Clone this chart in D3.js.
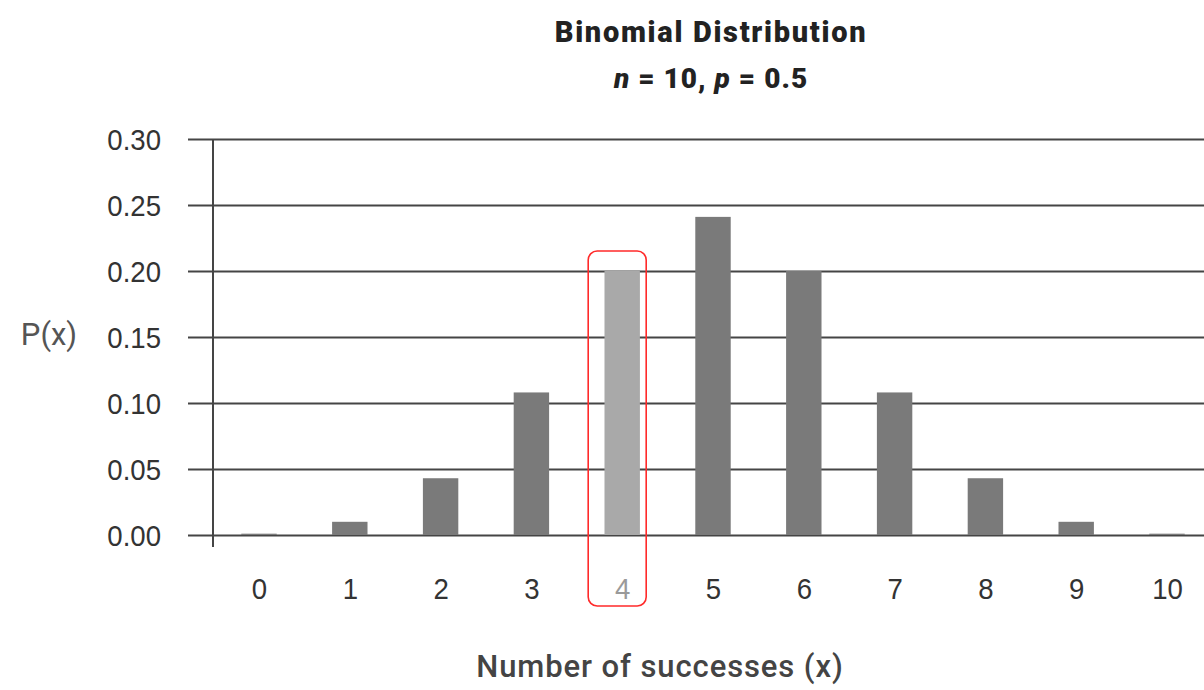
<!DOCTYPE html>
<html>
<head>
<meta charset="utf-8">
<script src="https://cdn.jsdelivr.net/npm/d3@7"></script>
<style>
  html, body { margin: 0; padding: 0; background: #fff; }
  svg { display: block; font-family: Roboto, "Liberation Sans", sans-serif; }
</style>
</head>
<body>
<svg id="chart" width="1204" height="690"></svg>
<script>
// Binomial distribution, n = 10, p = 0.5
const successes = [0, 1, 2, 3, 4, 5, 6, 7, 8, 9, 10];
const probabilities = [0.001, 0.010, 0.043, 0.108, 0.200, 0.241, 0.200, 0.108, 0.043, 0.010, 0.001];
const yTicks = [0, 0.05, 0.10, 0.15, 0.20, 0.25, 0.30];
const highlighted = 4;

const svg = d3.select("#chart");

const x = d3.scalePoint()
  .domain(successes)
  .range([259, 1167]);

const y = d3.scaleLinear()
  .domain([0, 0.30])
  .range([535, 139]);

const axisX = 213;
const barWidth = x.step() * 0.39;
const narrow = 0.92; // horizontal squeeze for the condensed tick labels

// horizontal gridlines with short tick stubs to the left of the axis
const yAxis = d3.axisLeft(y)
  .tickValues(yTicks)
  .tickFormat(d3.format(".2f"))
  .tickSize(-(1204 - axisX))
  .tickPadding(52);

const gy = svg.append("g")
  .attr("transform", `translate(${axisX},0)`)
  .call(yAxis);
gy.select(".domain").remove();
gy.selectAll(".tick line")
  .attr("x1", -25)
  .attr("stroke", "#454545")
  .attr("stroke-width", 2);
gy.selectAll(".tick text")
  .attr("x", 0)
  .attr("transform", `translate(-52,0) scale(${narrow},1)`)
  .attr("fill", "#333")
  .attr("font-size", 30)
  .attr("dy", "0.36em");

// vertical axis line
svg.append("line")
  .attr("x1", axisX).attr("x2", axisX)
  .attr("y1", y(0.30)).attr("y2", 547)
  .attr("stroke", "#454545")
  .attr("stroke-width", 2);

// bars
svg.append("g")
  .selectAll("rect")
  .data(successes)
  .join("rect")
  .attr("x", d => x(d) - barWidth / 2)
  .attr("width", barWidth)
  .attr("y", (d, i) => y(probabilities[i]))
  .attr("height", (d, i) => y(0) - y(probabilities[i]))
  .attr("fill", d => d === highlighted ? "#a9a9a9" : "#7a7a7a");

// x tick labels
const xAxis = d3.axisBottom(x).tickSize(0).tickPadding(0);
const gx = svg.append("g")
  .attr("transform", "translate(0,599)")
  .call(xAxis);
gx.select(".domain").remove();
gx.selectAll(".tick text")
  .attr("y", 0)
  .attr("dy", 0)
  .attr("transform", `scale(${narrow},1)`)
  .attr("font-size", 30)
  .attr("fill", d => d === highlighted ? "#9a9a9a" : "#333");

// red rounded outline around the highlighted outcome
svg.append("rect")
  .attr("x", x(highlighted) - 34)
  .attr("width", 58)
  .attr("y", 251)
  .attr("height", 355)
  .attr("rx", 9)
  .attr("fill", "none")
  .attr("stroke", "#ff2a2a")
  .attr("stroke-width", 1.6);

// titles
svg.append("text")
  .attr("x", 711).attr("y", 42)
  .attr("text-anchor", "middle")
  .attr("font-size", 29)
  .attr("font-weight", 900)
  .attr("letter-spacing", 1.7)
  .attr("fill", "#222")
  .text("Binomial Distribution");

const sub = svg.append("text")
  .attr("x", 711).attr("y", 88)
  .attr("text-anchor", "middle")
  .attr("font-size", 28)
  .attr("font-weight", 900)
  .attr("letter-spacing", 1)
  .attr("fill", "#222");
sub.append("tspan").attr("font-style", "italic").text("n");
sub.append("tspan").text(" = 10, ");
sub.append("tspan").attr("font-style", "italic").text("p");
sub.append("tspan").text(" = 0.5");

// axis titles
svg.append("text")
  .attr("x", 49).attr("y", 345)
  .attr("text-anchor", "middle")
  .attr("font-size", 31)
  .attr("fill", "#555")
  .text("P(x)");

svg.append("text")
  .attr("x", 660).attr("y", 677)
  .attr("text-anchor", "middle")
  .attr("font-size", 31)
  .attr("font-weight", 500)
  .attr("letter-spacing", 0.9)
  .attr("fill", "#444")
  .text("Number of successes (x)");
</script>
</body>
</html>
